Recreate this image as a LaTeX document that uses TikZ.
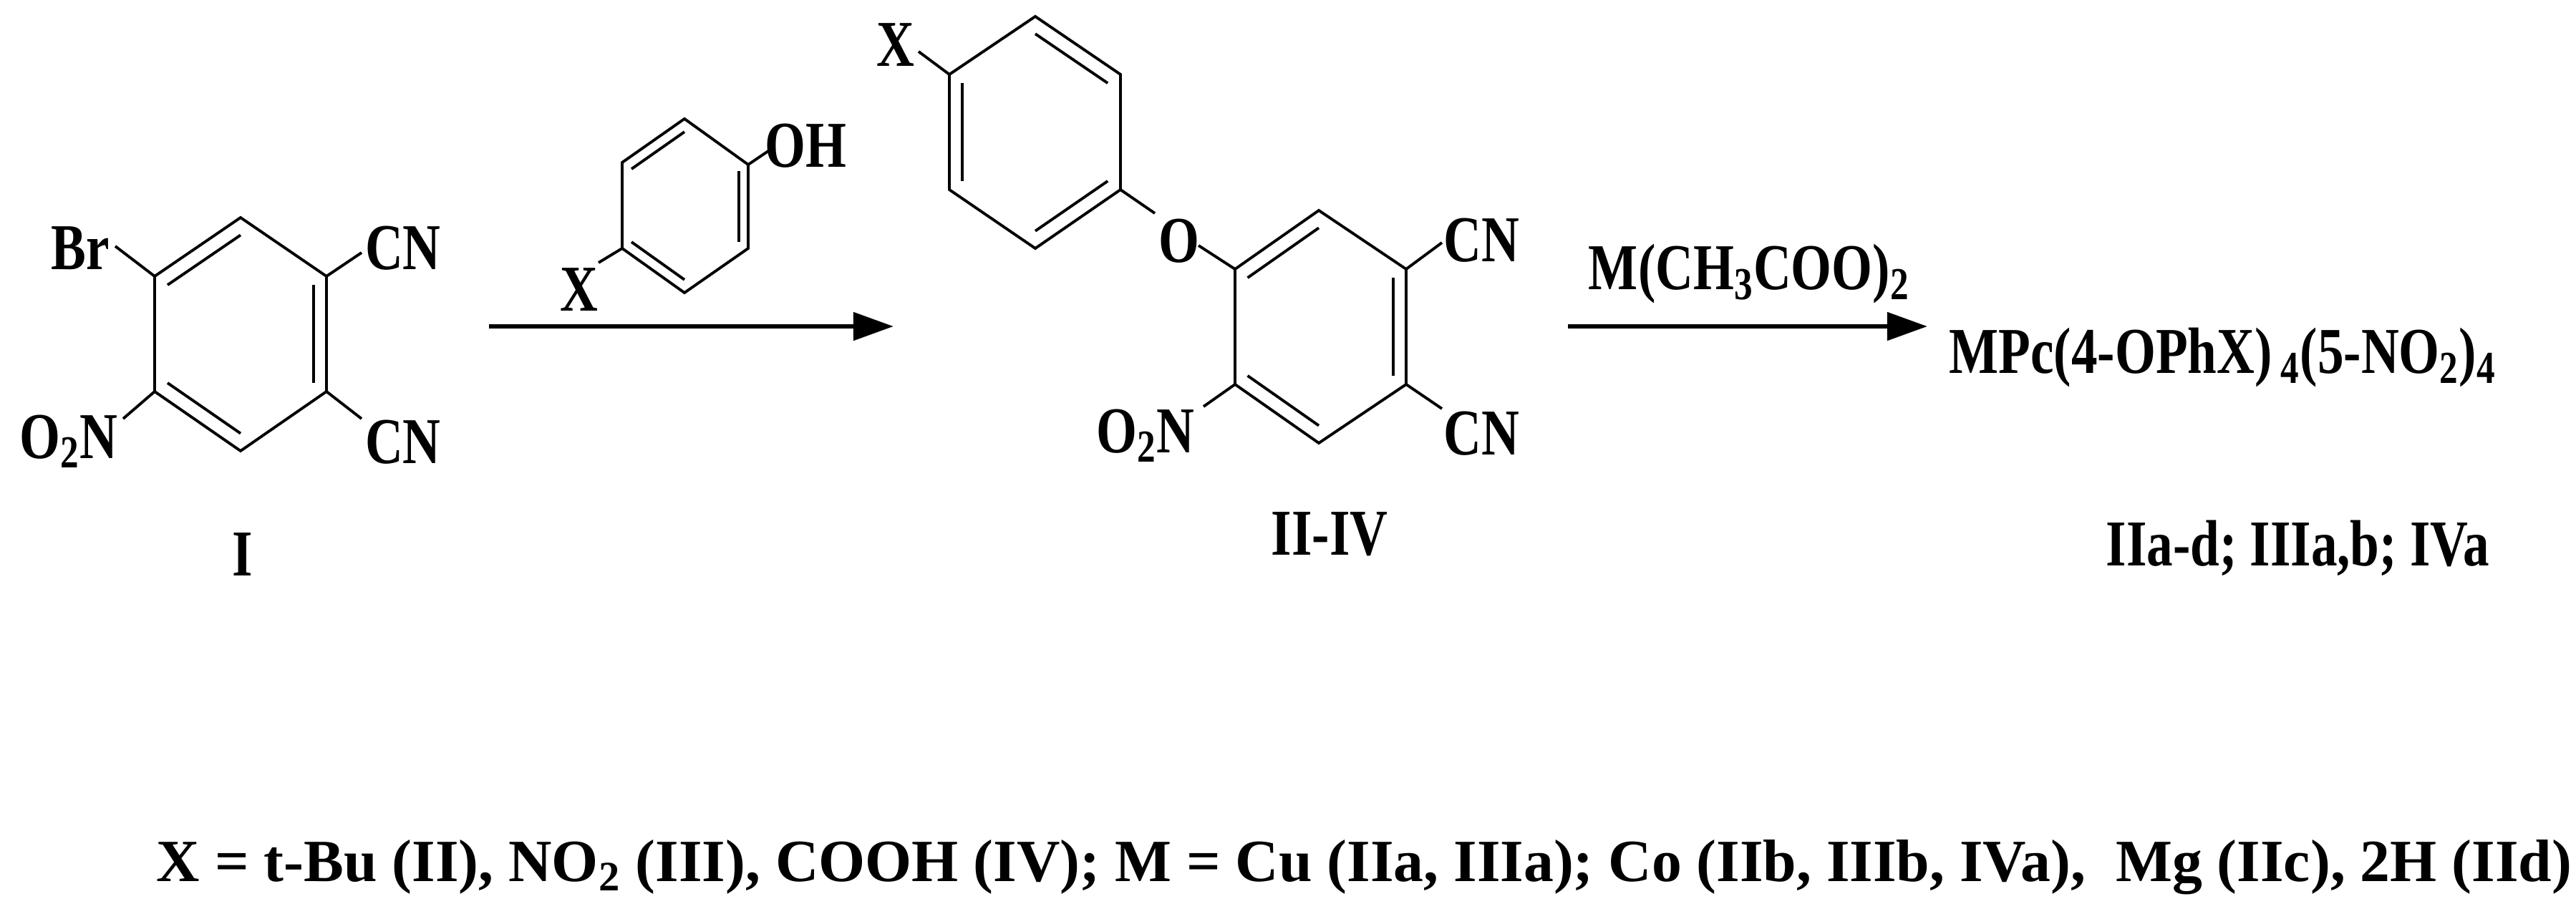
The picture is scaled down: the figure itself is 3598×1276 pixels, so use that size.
\documentclass[tikz,border=0pt]{standalone}
\usepackage{fontspec}
\setmainfont{Liberation Serif}
\usetikzlibrary{calc,arrows.meta}
\tikzset{
  bond/.style={line width=1.1pt},
  lab/.style={font=\bfseries\fontsize{26}{26}\selectfont, xscale=0.8, inner sep=0pt},
  rarrow/.style={line width=1.8pt,-{Triangle[length=16pt,width=11pt]}},
}
\newcommand{\ring}[7]{% name prefix, six coords (top,ur,lr,bot,ll,ul)
  \coordinate (#1t) at #2; \coordinate (#1ur) at #3; \coordinate (#1lr) at #4;
  \coordinate (#1b) at #5; \coordinate (#1ll) at #6; \coordinate (#1ul) at #7;
  \coordinate (#1c) at ($(#1t)!0.5!(#1b)$);
  \draw[bond] (#1t)--(#1ur)--(#1lr)--(#1b)--(#1ll)--(#1ul)--cycle;}
\newcommand{\dbl}[3]{\draw[bond] ($(#1)!0.15!(#3)$)--($(#2)!0.15!(#3)$);}
\begin{document}
\begin{tikzpicture}[x=0.01cm,y=-0.01cm]
\useasboundingbox (0,0) rectangle (3598,1276);
% ring I
\ring{a}{(336,304)}{(456,386)}{(456,547)}{(336,630)}{(216,547)}{(216,386)}
\dbl{aul}{at}{ac}\dbl{aur}{alr}{ac}\dbl{all}{ab}{ac}
\node[lab] (br) at (112,347) {Br};
\node[lab] (cn1) at (563,347) {CN};
\node[lab] (cn2) at (563,618) {CN};
\node[lab] (no1) at (96,617) {O\textsubscript{2}N};
\draw[bond] (aul)--(161,344) coordinate (k1);
\draw[bond] (aur)--(505,353) coordinate (k2);
\draw[bond] (alr)--(505,585) coordinate (k3);
\draw[bond] (all)--(172,585) coordinate (k4);
\node[lab] (lI) at (339,775) {I};
% phenol
\ring{p}{(956,166)}{(1045,230)}{(1045,347)}{(956,409)}{(869,347)}{(869,227)}
\dbl{pt}{pul}{pc}\dbl{pur}{plr}{pc}\dbl{pll}{pb}{pc}
\draw[bond] (pur)--(1079,207) coordinate (k5);
\node[lab] (oh) at (1125,204) {OH};
\draw[bond] (pll)--(836,367) coordinate (k6);
\node[lab] (x1) at (809,405) {X};
% arrow 1
\coordinate (r1s) at (683,456); \coordinate (r1e) at (1248,456);
\draw[rarrow] (r1s)--(r1e);
% ring II
\ring{q}{(1446,23)}{(1565,104)}{(1565,265)}{(1446,347)}{(1326,265)}{(1326,104)}
\dbl{qt}{qur}{qc}\dbl{qul}{qll}{qc}\dbl{qlr}{qb}{qc}
\draw[bond] (qul)--(1283,72) coordinate (k7);
\node[lab] (x2) at (1251,63) {X};
\node[lab] (o) at (1647,337) {O};
\draw[bond] (qlr)--(1613,298) coordinate (k8);
% ring III
\ring{s}{(1842,294)}{(1964,376)}{(1964,537)}{(1842,619)}{(1725,537)}{(1725,376)}
\dbl{sul}{st}{sc}\dbl{sur}{slr}{sc}\dbl{sll}{sb}{sc}
\draw[bond] (1674,343) coordinate (k9)--(sul);
\draw[bond] (sur)--(2014,339) coordinate (k10);
\draw[bond] (slr)--(2014,571) coordinate (k11);
\draw[bond] (sll)--(1681,568) coordinate (k12);
\node[lab] (cn3) at (2069,336) {CN};
\node[lab] (cn4) at (2069,606) {CN};
\node[lab] (no2) at (1600,609) {O\textsubscript{2}N};
\node[lab] (l2) at (1857,746) {II-IV};
% arrow 2
\coordinate (r2s) at (2190,456); \coordinate (r2e) at (2692,456);
\draw[rarrow] (r2s)--(r2e);
\node[lab] (reag) at (2443,383) {M(CH\textsubscript{3}COO)\textsubscript{2}};
\node[lab,anchor=west] (prod) at (2722,500) {MPc(4-OPhX)\,\textsubscript{4}(5-NO\textsubscript{2})\textsubscript{4}};
\node[lab,anchor=east] (l3) at (3478,766) {IIa-d; IIIa,b; IVa};
\node[font=\bfseries\fontsize{23.8}{23.8}\selectfont, inner sep=0pt, anchor=west] (foot) at (218,1212)
 {X = t-Bu (II), NO\textsubscript{2} (III), COOH (IV); M = Cu (IIa, IIIa); Co (IIb, IIIb, IVa),\ \ Mg (IIc), 2H (IId)};
\end{tikzpicture}
\end{document}
